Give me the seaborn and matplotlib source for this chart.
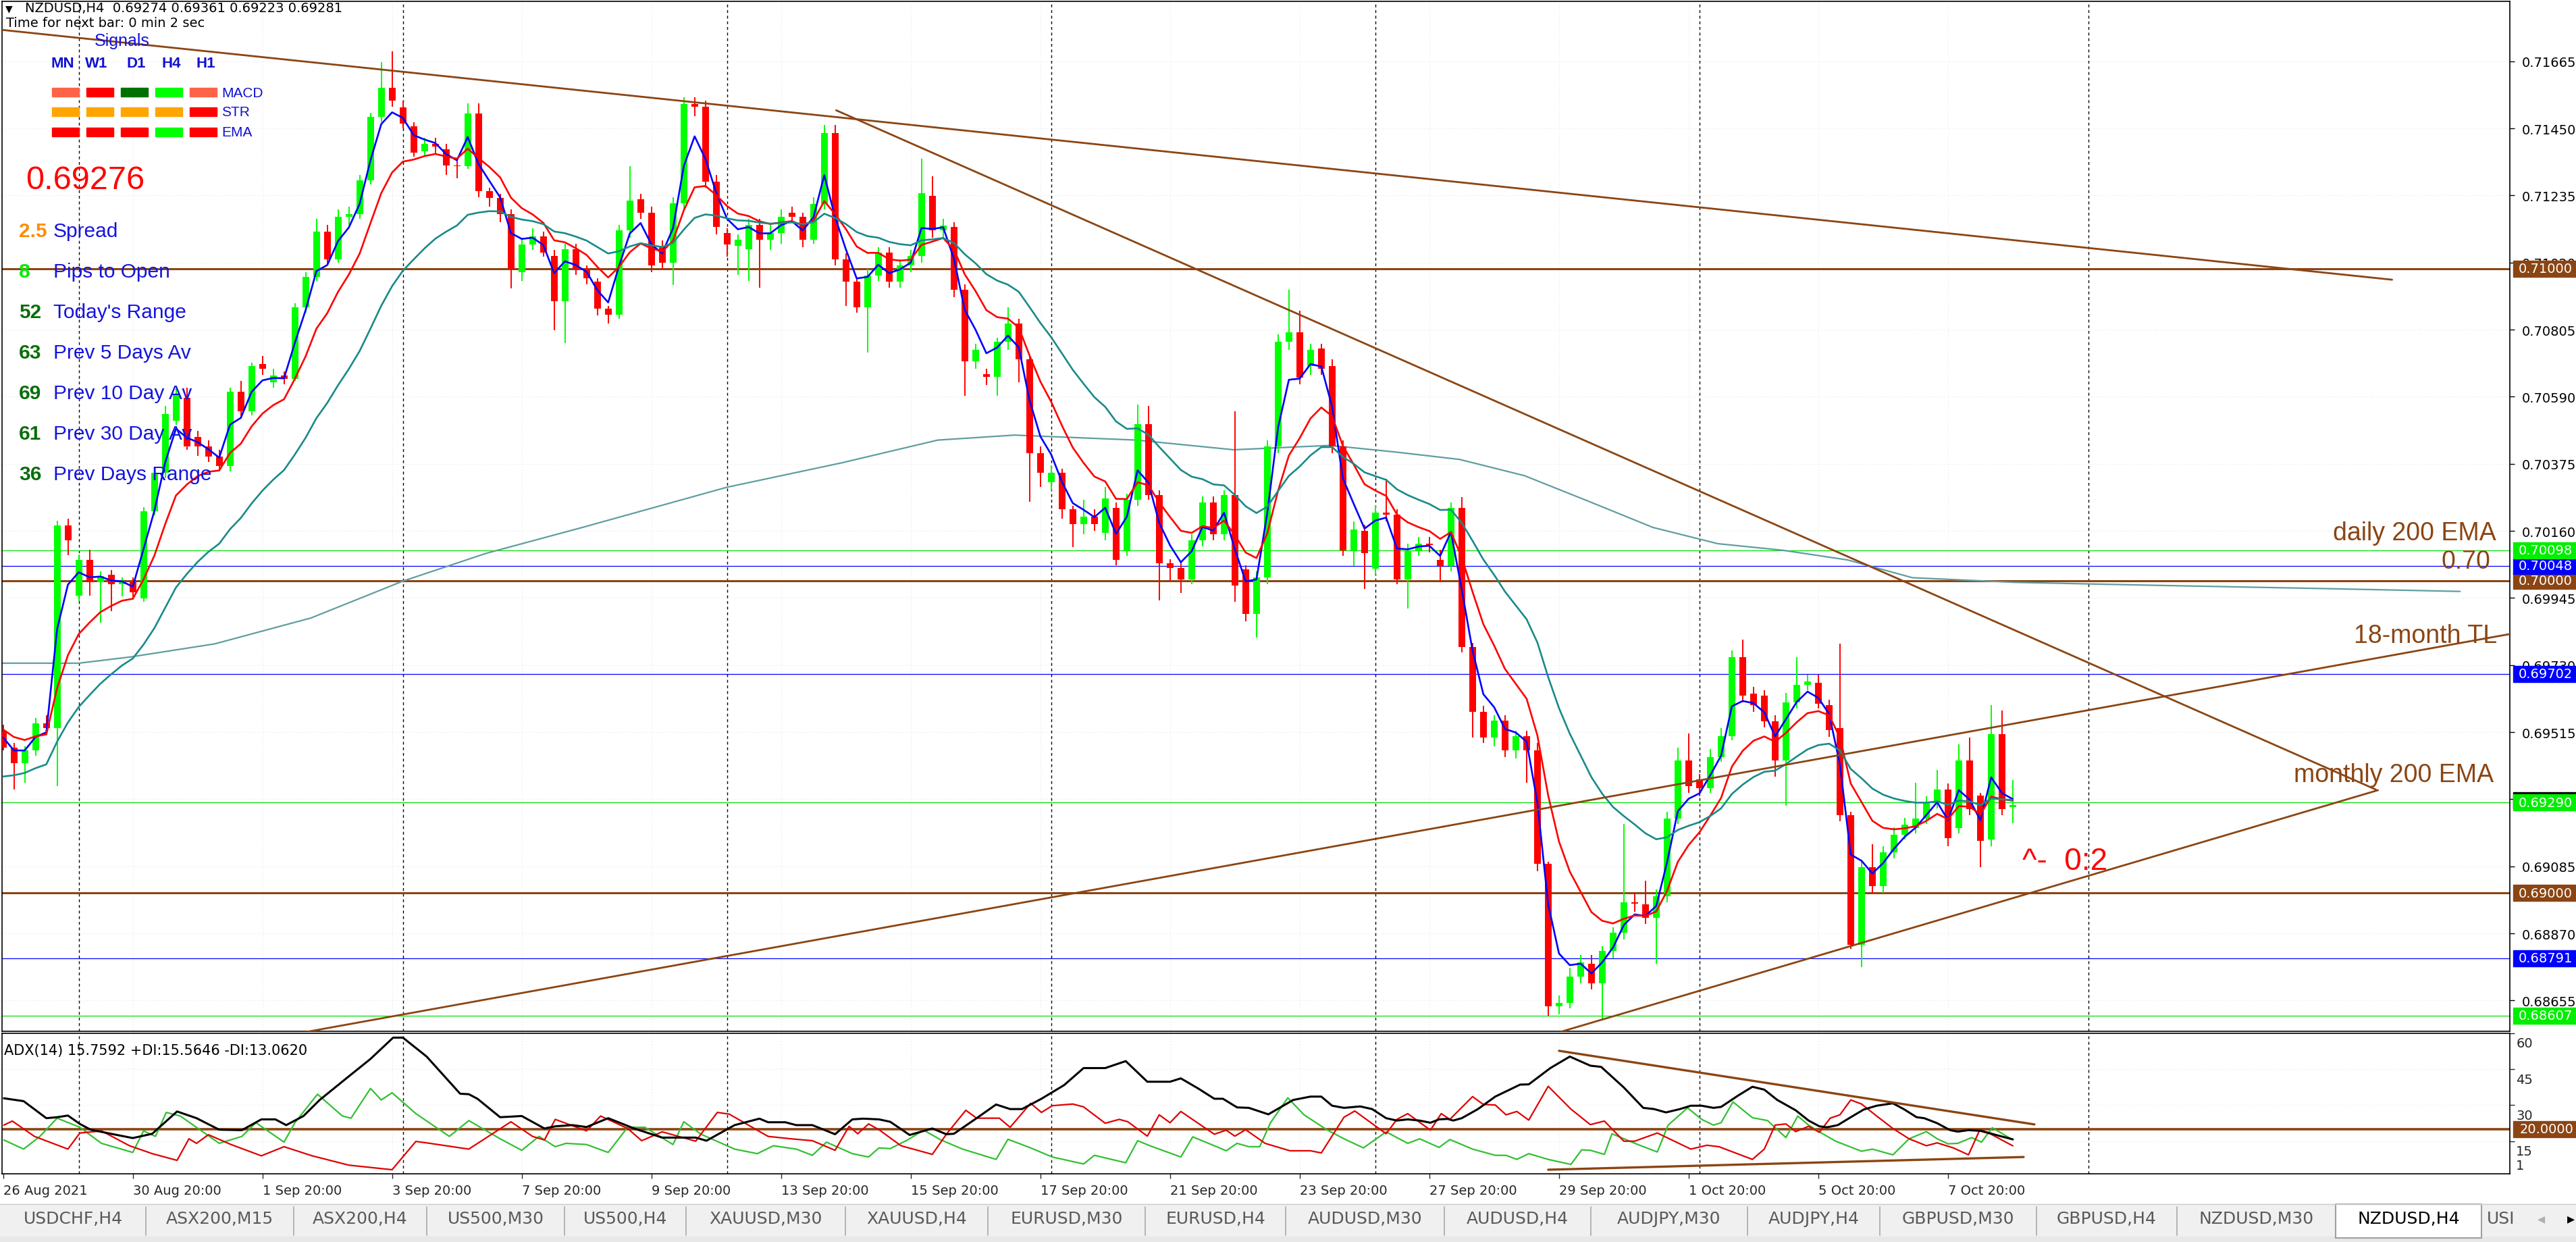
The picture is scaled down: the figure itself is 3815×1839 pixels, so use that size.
import numpy as np
import pandas as pd
import seaborn as sns
import matplotlib.pyplot as plt
import matplotlib.transforms as mtrans
from matplotlib.patches import Rectangle

sns.set_theme(style="white")
plt.rcParams['font.family'] = ['DejaVu Sans']

W, H = 3815, 1840

# ---- candle data (NZDUSD H4, 26 Aug 20:00 .. 8 Oct 20:00) ----
opens = [0.69518, 0.69466, 0.69415, 0.69456, 0.69543, 0.69529, 0.70177, 0.69953, 0.70067, 0.69995,
         0.70020, 0.69990, 0.69995, 0.69943, 0.70223, 0.70347, 0.70513, 0.70586, 0.70461, 0.70430,
         0.70399, 0.70368, 0.70606, 0.70544, 0.70695, 0.70637, 0.70658, 0.70648, 0.70876, 0.70973,
         0.71118, 0.71031, 0.71166, 0.71176, 0.71284, 0.71487, 0.71580, 0.71518, 0.71456, 0.71377,
         0.71400, 0.71383, 0.71332, 0.71330, 0.71497, 0.71249, 0.71228, 0.71176, 0.70990, 0.71077,
         0.71104, 0.71041, 0.70896, 0.71062, 0.71000, 0.70959, 0.70872, 0.70853, 0.71124, 0.71222,
         0.71180, 0.71070, 0.71020, 0.71211, 0.71528, 0.71520, 0.71280, 0.71114, 0.71073, 0.71062,
         0.71141, 0.71093, 0.71114, 0.71180, 0.71166, 0.71093, 0.71207, 0.71435, 0.71031, 0.70959,
         0.70876, 0.70979, 0.71052, 0.70959, 0.71010, 0.71041, 0.71234, 0.71124, 0.71135, 0.70932,
         0.70704, 0.70662, 0.70654, 0.70766, 0.70824, 0.70710, 0.70409, 0.70316, 0.70347, 0.70229,
         0.70181, 0.70206, 0.70154, 0.70233, 0.70098, 0.70260, 0.70503, 0.70275, 0.70057, 0.70042,
         0.70005, 0.70130, 0.70250, 0.70150, 0.70275, 0.70036, 0.69895, 0.70011, 0.70430, 0.70766,
         0.70797, 0.70689, 0.70745, 0.70689, 0.70430, 0.70098, 0.70161, 0.70040, 0.70219, 0.70212,
         0.70005, 0.70098, 0.70119, 0.70067, 0.70047, 0.70233, 0.69788, 0.69580, 0.69497, 0.69553,
         0.69456, 0.69502, 0.69456, 0.69093, 0.68637, 0.68648, 0.68731, 0.68772, 0.68710, 0.68813,
         0.68872, 0.68969, 0.68963, 0.68921, 0.68990, 0.69238, 0.69425, 0.69363, 0.69336, 0.69435,
         0.69502, 0.69756, 0.69638, 0.69632, 0.69549, 0.69425, 0.69611, 0.69667, 0.69674, 0.69601,
         0.69528, 0.69249, 0.68834, 0.69083, 0.69021, 0.69129, 0.69187, 0.69208, 0.69238, 0.69290,
         0.69332, 0.69208, 0.69425, 0.69311, 0.69170, 0.69508, 0.69274]
highs = [0.69539, 0.69480, 0.69470, 0.69560, 0.69570, 0.70192, 0.70200, 0.70085, 0.70099, 0.70030,
         0.70035, 0.70010, 0.70010, 0.70235, 0.70360, 0.70560, 0.70617, 0.70620, 0.70480, 0.70450,
         0.70420, 0.70620, 0.70640, 0.70700, 0.70720, 0.70680, 0.70670, 0.70890, 0.70990, 0.71160,
         0.71140, 0.71190, 0.71200, 0.71300, 0.71500, 0.71663, 0.71698, 0.71540, 0.71470, 0.71420,
         0.71420, 0.71400, 0.71350, 0.71530, 0.71530, 0.71260, 0.71240, 0.71190, 0.71100, 0.71130,
         0.71120, 0.71060, 0.71080, 0.71080, 0.71010, 0.70970, 0.70880, 0.71140, 0.71330, 0.71240,
         0.71200, 0.71090, 0.71230, 0.71550, 0.71550, 0.71540, 0.71300, 0.71130, 0.71110, 0.71160,
         0.71160, 0.71140, 0.71190, 0.71200, 0.71180, 0.71230, 0.71460, 0.71460, 0.71050, 0.70970,
         0.71000, 0.71070, 0.71070, 0.71030, 0.71060, 0.71352, 0.71296, 0.71160, 0.71150, 0.70950,
         0.70760, 0.70680, 0.70780, 0.70876, 0.70840, 0.70720, 0.70430, 0.70370, 0.70360, 0.70240,
         0.70260, 0.70230, 0.70300, 0.70250, 0.70280, 0.70565, 0.70560, 0.70290, 0.70070, 0.70060,
         0.70150, 0.70270, 0.70270, 0.70290, 0.70544, 0.70050, 0.70030, 0.70450, 0.70790, 0.70932,
         0.70865, 0.70760, 0.70760, 0.70710, 0.70450, 0.70190, 0.70180, 0.70240, 0.70326, 0.70230,
         0.70120, 0.70140, 0.70140, 0.70100, 0.70250, 0.70268, 0.69800, 0.69600, 0.69570, 0.69570,
         0.69520, 0.69520, 0.69480, 0.69100, 0.68670, 0.68760, 0.68800, 0.68800, 0.68830, 0.68890,
         0.69220, 0.69000, 0.69040, 0.69010, 0.69260, 0.69466, 0.69510, 0.69380, 0.69460, 0.69529,
         0.69777, 0.69812, 0.69660, 0.69650, 0.69570, 0.69640, 0.69756, 0.69700, 0.69700, 0.69620,
         0.69798, 0.69260, 0.69100, 0.69156, 0.69150, 0.69210, 0.69240, 0.69352, 0.69310, 0.69394,
         0.69350, 0.69477, 0.69497, 0.69320, 0.69601, 0.69585, 0.69361]
lows = [0.69456, 0.69332, 0.69352, 0.69440, 0.69515, 0.69342, 0.70082, 0.69935, 0.69953, 0.69866,
        0.69902, 0.69950, 0.69940, 0.69933, 0.70210, 0.70330, 0.70500, 0.70420, 0.70400, 0.70380,
        0.70358, 0.70350, 0.70520, 0.70530, 0.70660, 0.70620, 0.70630, 0.70640, 0.70860, 0.70960,
        0.71010, 0.71020, 0.71140, 0.71160, 0.71270, 0.71470, 0.71520, 0.71450, 0.71360, 0.71360,
        0.71370, 0.71300, 0.71290, 0.71320, 0.71230, 0.71200, 0.71150, 0.70938, 0.70960, 0.71060,
        0.71040, 0.70803, 0.70762, 0.70980, 0.70950, 0.70850, 0.70824, 0.70840, 0.71100, 0.71160,
        0.70990, 0.71000, 0.70948, 0.71190, 0.71490, 0.71260, 0.71110, 0.71040, 0.70980, 0.70960,
        0.70940, 0.71060, 0.71080, 0.71150, 0.71070, 0.71080, 0.71190, 0.71010, 0.70880, 0.70860,
        0.70731, 0.70960, 0.70940, 0.70940, 0.70990, 0.71020, 0.71100, 0.71100, 0.70910, 0.70592,
        0.70680, 0.70627, 0.70592, 0.70740, 0.70637, 0.70254, 0.70300, 0.70290, 0.70200, 0.70109,
        0.70150, 0.70160, 0.70130, 0.70050, 0.70080, 0.70240, 0.70260, 0.69937, 0.70000, 0.69960,
        0.69990, 0.70110, 0.70130, 0.70130, 0.69933, 0.69870, 0.69819, 0.69990, 0.70410, 0.70740,
        0.70630, 0.70660, 0.70660, 0.70410, 0.70080, 0.70047, 0.69974, 0.70020, 0.70190, 0.69990,
        0.69912, 0.70080, 0.70090, 0.69995, 0.70030, 0.69770, 0.69497, 0.69480, 0.69470, 0.69435,
        0.69430, 0.69352, 0.69070, 0.68606, 0.68610, 0.68630, 0.68710, 0.68690, 0.68596, 0.68790,
        0.68850, 0.68940, 0.68900, 0.68772, 0.68970, 0.69220, 0.69320, 0.69310, 0.69320, 0.69420,
        0.69490, 0.69610, 0.69580, 0.69530, 0.69373, 0.69280, 0.69590, 0.69650, 0.69590, 0.69500,
        0.69230, 0.68820, 0.68762, 0.69000, 0.69000, 0.69110, 0.69170, 0.69190, 0.69220, 0.69270,
        0.69150, 0.69190, 0.69250, 0.69083, 0.69150, 0.69250, 0.69223]
closes = [0.69466, 0.69415, 0.69456, 0.69543, 0.69529, 0.70177, 0.70130, 0.70067, 0.69995, 0.70016,
          0.69989, 0.69995, 0.69964, 0.70223, 0.70347, 0.70534, 0.70596, 0.70430, 0.70430, 0.70399,
          0.70368, 0.70606, 0.70544, 0.70689, 0.70679, 0.70658, 0.70648, 0.70876, 0.70973, 0.71118,
          0.71031, 0.71166, 0.71176, 0.71284, 0.71487, 0.71580, 0.71539, 0.71466, 0.71373, 0.71400,
          0.71392, 0.71332, 0.71328, 0.71497, 0.71249, 0.71228, 0.71176, 0.71000, 0.71077, 0.71104,
          0.71052, 0.70896, 0.71062, 0.71000, 0.70969, 0.70872, 0.70853, 0.71124, 0.71218, 0.71180,
          0.71010, 0.71020, 0.71211, 0.71528, 0.71520, 0.71280, 0.71135, 0.71077, 0.71093, 0.71141,
          0.71093, 0.71114, 0.71166, 0.71166, 0.71093, 0.71207, 0.71435, 0.71031, 0.70959, 0.70876,
          0.70979, 0.71052, 0.70959, 0.71010, 0.71041, 0.71242, 0.71124, 0.71139, 0.70932, 0.70704,
          0.70741, 0.70654, 0.70766, 0.70824, 0.70710, 0.70409, 0.70347, 0.70347, 0.70229, 0.70181,
          0.70206, 0.70181, 0.70264, 0.70067, 0.70260, 0.70503, 0.70275, 0.70057, 0.70042, 0.70005,
          0.70130, 0.70250, 0.70150, 0.70275, 0.69984, 0.69895, 0.70011, 0.70430, 0.70766, 0.70797,
          0.70652, 0.70741, 0.70679, 0.70430, 0.70098, 0.70165, 0.70088, 0.70219, 0.70212, 0.70005,
          0.70098, 0.70119, 0.70115, 0.70047, 0.70233, 0.69788, 0.69580, 0.69497, 0.69553, 0.69456,
          0.69502, 0.69456, 0.69093, 0.68637, 0.68648, 0.68731, 0.68778, 0.68710, 0.68813, 0.68872,
          0.68969, 0.68965, 0.68921, 0.68990, 0.69238, 0.69425, 0.69342, 0.69336, 0.69435, 0.69502,
          0.69756, 0.69632, 0.69601, 0.69549, 0.69425, 0.69611, 0.69667, 0.69678, 0.69605, 0.69522,
          0.69249, 0.68834, 0.69083, 0.69021, 0.69129, 0.69187, 0.69218, 0.69238, 0.69290, 0.69332,
          0.69176, 0.69425, 0.69269, 0.69166, 0.69508, 0.69269, 0.69281]

# moving averages: seeds read at the left edge, periods of the indicators
ema_seeds = [0.69530, 0.69540, 0.69363]
ema_spans = [3, 8, 20]

# long (shifted) average line: bar position / price
long_ma_bars = [-0.2, 7, 11.8, 19.6, 28.5, 37, 44.7, 53.6, 67, 77.6, 86.5, 93.6, 104.9, 113.9,
                122.8, 128.8, 134.8, 140.8, 146.8, 152.7, 158.7, 164.7, 170.7, 176.7, 186.2,
                200, 215, 227.4]
long_ma_vals = [0.69736, 0.69736, 0.69756, 0.69798, 0.69881, 0.69999, 0.70088, 0.70171, 0.70300,
                0.70378, 0.70451, 0.70467, 0.70451, 0.70420, 0.70434, 0.70413, 0.70389, 0.70337,
                0.70254, 0.70171, 0.70119, 0.70098, 0.70067, 0.70010, 0.69995, 0.69985, 0.69975,
                0.69966]

# ADX(14) lines
adx_bars = [0.07, 1.9, 4.0, 5.0, 6.0, 7.1, 8.1, 10.2, 12.0, 13.8, 16.1, 17.9, 20.0, 22.1, 23.9,
            25.2, 26.2, 27.8, 29.3, 31.9, 34.0, 36.1, 37.0, 39.2, 42.3, 43.1, 43.9, 46.0, 48.0,
            50.1, 51.1, 52.7, 54.0, 56.0, 58.4, 61.0, 64.1, 65.1, 67.7, 70.0, 70.8, 72.4, 73.4,
            74.9, 77.0, 78.6, 79.6, 81.06, 82.1, 83.9, 86.0, 87.3, 88.0, 90.1, 91.9, 93.2, 94.3,
            96.1, 98.2, 100.0, 102.0, 103.9, 105.9, 108.0, 109.0, 110.6, 112.1, 112.9, 114.2,
            115.3, 117.1, 119.4, 121.0, 122.0, 123.0, 124.1, 125.6, 126.7, 128.0, 129.0, 130.0,
            131.1, 132.1, 132.9, 133.7, 134.2, 135.0, 136.5, 138.1, 140.4, 141.2, 143.2, 145.0,
            146.9, 147.9, 150.0, 151.8, 152.8, 153.9, 155.2, 156.2, 157.2, 158.3, 159.0, 160.6,
            161.9, 163.0, 164.2, 165.9, 167.1, 168.1, 168.8, 169.8, 171.0, 172.2, 173.4, 174.9,
            175.9, 177.1, 177.8, 179.0, 180.2, 180.9, 181.9, 183.1, 184.6, 186.0]
adx_vals = [32.9, 31.7, 24.6, 25.0, 25.7, 22.2, 19.8, 17.9, 16.3, 18.1, 27.4, 24.6, 19.8, 19.6,
            24.1, 24.1, 21.7, 25.5, 32.2, 41.7, 49.3, 58.2, 58.2, 50.3, 34.8, 34.6, 32.7, 25.0,
            25.5, 20.3, 21.2, 21.7, 20.9, 24.6, 20.3, 16.5, 16.5, 15.2, 21.7, 24.4, 22.9, 22.9,
            21.7, 21.7, 17.9, 24.1, 24.4, 24.1, 23.1, 17.6, 20.3, 17.9, 18.1, 24.6, 30.3, 28.4,
            28.4, 32.7, 38.4, 45.5, 45.5, 48.4, 39.8, 39.8, 41.2, 37.0, 32.7, 32.7, 29.1, 28.9,
            26.2, 32.2, 33.6, 33.6, 29.8, 28.9, 29.5, 28.4, 24.6, 23.6, 24.1, 23.6, 22.7, 24.1,
            24.3, 23.6, 24.6, 28.4, 33.6, 38.6, 38.7, 45.5, 50.3, 46.5, 46.0, 37.4, 28.9, 28.4,
            27.0, 28.4, 29.8, 29.8, 28.9, 29.3, 34.1, 37.7, 36.5, 32.2, 27.9, 23.6, 21.2, 20.8,
            21.7, 25.0, 28.2, 29.8, 30.8, 28.4, 25.0, 24.6, 22.5, 19.6, 19.0, 19.6, 19.3, 17.4,
            15.76]
pdi_bars = [0.07, 1.9, 3.4, 5.0, 7.1, 9.1, 12.0, 13.0, 14.1, 15.1, 16.4, 20.0, 22.1, 23.4, 26.0,
            27.0, 29.1, 31.4, 32.2, 34.0, 35.0, 36.0, 38.2, 41.3, 43.1, 46.0, 48.0, 49.6, 51.1,
            52.1, 54.0, 56.0, 57.8, 59.4, 62.0, 63.0, 64.6, 67.7, 69.8, 71.3, 73.4, 74.9, 76.2,
            78.6, 80.1, 81.06, 82.1, 83.7, 85.2, 86.8, 88.8, 91.9, 93.0, 95.1, 97.1, 100.0, 101.0,
            103.9, 105.0, 106.2, 109.0, 110.1, 112.1, 113.2, 114.2, 115.3, 116.3, 117.3, 118.9,
            120.4, 122.5, 124.1, 125.9, 128.0, 130.0, 131.1, 132.9, 133.9, 136.0, 138.1, 139.1,
            140.1, 141.2, 143.0, 145.1, 146.1, 146.9, 148.2, 148.9, 151.3, 153.1, 154.1, 155.9,
            157.2, 158.3, 159.0, 160.1, 161.9, 163.3, 165.0, 166.1, 167.1, 168.1, 169.6, 172.0,
            173.0, 174.9, 176.4, 178.0, 179.0, 180.0, 180.9, 182.2, 183.1, 184.1, 186.0]
pdi_vals = [15.5, 11.7, 17.0, 24.6, 20.8, 14.1, 10.3, 19.3, 17.0, 27.0, 25.5, 14.1, 17.0, 22.7,
            14.6, 22.7, 34.6, 25.5, 24.6, 37.0, 32.2, 35.2, 26.5, 17.0, 23.6, 16.0, 11.2, 17.0,
            12.7, 14.1, 13.6, 10.3, 20.8, 20.8, 13.6, 23.1, 17.9, 11.7, 9.8, 13.1, 11.7, 9.1,
            14.6, 9.8, 8.4, 12.2, 11.9, 15.5, 19.6, 15.5, 11.7, 7.4, 15.8, 12.2, 8.4, 5.5, 9.1,
            6.0, 15.2, 13.0, 8.4, 16.8, 13.1, 11.0, 14.1, 12.7, 12.7, 22.7, 33.1, 26.0, 19.8,
            16.0, 12.2, 18.9, 14.1, 16.0, 12.4, 15.7, 11.7, 9.1, 9.1, 7.4, 9.8, 7.4, 5.3, 11.4,
            11.2, 9.5, 18.1, 13.6, 10.5, 21.7, 28.9, 24.1, 21.7, 22.7, 31.4, 24.8, 23.6, 16.5,
            25.5, 21.7, 18.9, 15.0, 10.8, 11.7, 9.3, 16.0, 19.0, 16.0, 13.9, 14.1, 16.5, 14.6,
            20.6, 15.56]
mdi_bars = [0.07, 0.85, 2.9, 6.0, 7.1, 9.1, 11.7, 13.8, 16.1, 17.2, 17.9, 19.0, 21.1, 23.9, 26.0,
            28.6, 32.0, 36.0, 38.2, 39.2, 43.1, 47.0, 49.0, 50.1, 51.1, 54.0, 55.3, 57.8, 59.1,
            61.0, 64.1, 66.1, 67.2, 70.8, 72.9, 74.9, 77.0, 78.3, 79.1, 80.1, 81.06, 83.1, 86.0,
            87.3, 89.1, 90.1, 92.2, 93.2, 95.1, 96.1, 97.1, 99.0, 100.0, 102.0, 103.3, 104.1,
            105.9, 107.0, 108.0, 109.0, 112.1, 113.2, 114.0, 115.0, 116.8, 119.1, 121.0, 122.0,
            124.1, 125.1, 128.0, 129.0, 130.0, 132.1, 133.1, 133.9, 136.0, 137.0, 138.1, 139.1,
            140.1, 141.2, 143.0, 145.1, 146.9, 148.2, 150.0, 151.0, 153.1, 156.2, 157.7, 158.8,
            161.9, 163.0, 164.0, 165.0, 165.9, 167.1, 168.1, 169.1, 170.0, 171.0, 172.0, 173.4,
            174.9, 176.4, 178.0, 179.0, 180.5, 181.9, 182.9, 183.9, 186.0]
mdi_vals = [21.7, 23.4, 17.0, 11.7, 18.4, 19.3, 13.1, 9.8, 7.0, 16.0, 14.1, 17.7, 13.6, 8.9, 12.7,
            8.9, 5.0, 3.1, 14.9, 14.3, 11.7, 23.1, 17.0, 15.5, 24.1, 19.3, 25.5, 20.3, 15.2, 18.9,
            15.0, 27.0, 26.3, 17.0, 16.0, 15.2, 11.2, 21.2, 18.1, 22.2, 19.8, 13.1, 9.5, 17.9,
            27.9, 24.6, 24.6, 20.8, 30.8, 27.0, 29.8, 30.5, 29.3, 22.5, 24.1, 23.1, 17.1, 26.0,
            22.7, 27.4, 17.9, 19.6, 17.1, 19.8, 14.1, 11.0, 11.0, 10.1, 25.0, 27.6, 18.1, 24.1,
            26.5, 19.6, 26.5, 24.1, 33.6, 30.3, 30.1, 26.0, 27.4, 23.8, 37.9, 28.4, 21.9, 23.4,
            15.0, 15.0, 18.4, 11.7, 13.3, 12.7, 7.4, 11.7, 21.7, 22.2, 19.0, 21.2, 18.7, 24.6,
            26.0, 32.2, 30.5, 25.5, 20.3, 16.0, 13.1, 14.3, 12.2, 9.3, 19.3, 18.1, 13.06]

# axis / labels
date_ticks = list(range(0, 181, 12))
date_labels = ["26 Aug 2021", "30 Aug 20:00", "1 Sep 20:00", "3 Sep 20:00", "7 Sep 20:00",
               "9 Sep 20:00", "13 Sep 20:00", "15 Sep 20:00", "17 Sep 20:00", "21 Sep 20:00",
               "23 Sep 20:00", "27 Sep 20:00", "29 Sep 20:00", "1 Oct 20:00", "5 Oct 20:00",
               "7 Oct 20:00"]
week_starts = [7, 37, 67, 97, 127, 157, 193]
price_ticks = [0.71665, 0.71450, 0.71235, 0.71020, 0.70805, 0.70590, 0.70375, 0.70160,
               0.69945, 0.69730, 0.69515, 0.69300, 0.69085, 0.68870, 0.68655]
adx_ticks = [60, 45, 30, 15]

# horizontal levels drawn on the chart
brown_levels = [0.71000, 0.70000, 0.69000]
blue_levels = [0.70048, 0.69702, 0.68791]
green_levels = [0.70098, 0.69290, 0.68607]

# trend lines (bar, price)
tl_top = [(-0.2, 0.71766), (221.1, 0.70965)]
tl_down = [(77.1, 0.71508), (219.6, 0.69331)]
tl_18m = [(20.5, 0.68507), (232.1, 0.69830)]
tl_low = [(144.1, 0.68554), (219.8, 0.69329)]
adx_tl_up = [(144.0, 52.7), (188.0, 22.0)]
adx_tl_low = [(143.0, 3.1), (187.0, 8.4)]

tabs = ["USDCHF,H4", "ASX200,M15", "ASX200,H4", "US500,M30", "US500,H4", "XAUUSD,M30",
        "XAUUSD,H4", "EURUSD,M30", "EURUSD,H4", "AUDUSD,M30", "AUDUSD,H4", "AUDJPY,M30",
        "AUDJPY,H4", "GBPUSD,M30", "GBPUSD,H4", "NZDUSD,M30", "NZDUSD,H4"]
tab_edges = [0, 216, 435, 632, 836, 1016, 1252, 1463, 1696, 1904, 2139, 2356, 2588, 2784,
             3016, 3224, 3459, 3675]

info_values = ["2.5", "8", "52", "63", "69", "61", "36"]
info_names = ["Spread", "Pips to Open", "Today's Range", "Prev 5 Days Av", "Prev 10 Day Av",
              "Prev 30 Day Av", "Prev Days Range"]
signal_tf = ["MN", "W1", "D1", "H4", "H1"]
signal_rows = ["MACD", "STR", "EMA"]
signal_colors = [["#ff6347", "#ff0000", "#007000", "#00ff00", "#ff6347"],
                 ["#ffa500", "#ffa500", "#ffa500", "#ffa500", "#ff0000"],
                 ["#ff0000", "#ff0000", "#ff0000", "#00ff00", "#ff0000"]]

BROWN = "#8b4513"
ARIAL = ["Liberation Sans", "DejaVu Sans"]


def fx(px):
    return px / W


def fy(py):
    return 1 - py / H


fig = plt.figure(figsize=(W / 100, H / 100), dpi=100)
fig.patch.set_facecolor("white")

ax = fig.add_axes([fx(3), fy(1528), 3714 / W, 1525 / H])
ax2 = fig.add_axes([fx(3), fy(1739), 3714 / W, 208 / H])
XLIM = (-0.1, 232.0)
ax.set_xlim(*XLIM)
ax2.set_xlim(*XLIM)
ax.set_ylim(0.685563, 0.718571)
ax2.set_ylim(1.4, 60.0)

for a in (ax, ax2):
    a.set_facecolor("white")
    for s in a.spines.values():
        s.set_color("black")
        s.set_linewidth(1.2)

# faint grid
for p in price_ticks:
    ax.axhline(p, color="#e4e4e4", lw=0.8, ls=(0, (1, 3)), zorder=0)
for t in date_ticks:
    ax.axvline(t, color="#e4e4e4", lw=0.8, ls=(0, (1, 3)), zorder=0)
    ax2.axvline(t, color="#e4e4e4", lw=0.8, ls=(0, (1, 3)), zorder=0)
for v in adx_ticks:
    ax2.axhline(v, color="#e4e4e4", lw=0.8, ls=(0, (1, 3)), zorder=0)

# week separators
for w in week_starts:
    ax.axvline(w, color="black", lw=1.0, ls=(0, (3, 3)), zorder=1)
    ax2.axvline(w, color="black", lw=1.0, ls=(0, (3, 3)), zorder=1)

# levels
for p in brown_levels:
    ax.axhline(p, color=BROWN, lw=2.2, zorder=2)
for p in blue_levels:
    ax.axhline(p, color="#0000ff", lw=0.9, zorder=2)
for p in green_levels:
    ax.axhline(p, color="#00e000", lw=0.9, zorder=2)

# long average
sns.lineplot(x=long_ma_bars, y=long_ma_vals, ax=ax, color="#5f9ea0", lw=1.6,
             estimator=None, sort=False, zorder=2)

# candles
df = pd.DataFrame({"o": opens, "h": highs, "l": lows, "c": closes})
df["i"] = np.arange(len(df))
up = df["c"] >= df["o"]
cols = np.where(up, "#00ff00", "#ff0000")
ax.vlines(df["i"], df["l"], df["h"], colors=cols, lw=1.4, zorder=3)
body = (df["c"] - df["o"]).abs().clip(lower=0.00003)
ax.bar(df["i"], body, bottom=df[["o", "c"]].min(axis=1), width=0.62, color=cols,
       lw=0, zorder=3)

# EMAs computed from closes
ema_colors = ["#0000ff", "#ff0000", "#1a8a8a"]
for seed, span, col in zip(ema_seeds, ema_spans, ema_colors):
    e = pd.Series([seed] + closes).ewm(span=span, adjust=False).mean().iloc[1:].values
    sns.lineplot(x=df["i"], y=e, ax=ax, color=col, lw=1.9, estimator=None, zorder=4)

# trend lines
for tl in (tl_top, tl_down, tl_18m, tl_low):
    ax.plot([tl[0][0], tl[1][0]], [tl[0][1], tl[1][1]], color=BROWN, lw=2.0, zorder=5)

# ADX pane
ax2.axhline(20, color=BROWN, lw=2.6, zorder=2)
sns.lineplot(x=pdi_bars, y=pdi_vals, ax=ax2, color="#32c032", lw=1.6, estimator=None,
             sort=False, zorder=3)
sns.lineplot(x=mdi_bars, y=mdi_vals, ax=ax2, color="#e00000", lw=1.6, estimator=None,
             sort=False, zorder=3)
sns.lineplot(x=adx_bars, y=adx_vals, ax=ax2, color="black", lw=2.2, estimator=None,
             sort=False, zorder=4)
for tl in (adx_tl_up, adx_tl_low):
    ax2.plot([tl[0][0], tl[1][0]], [tl[0][1], tl[1][1]], color=BROWN, lw=2.4, zorder=5)

# axes ticks
ax.set_xticks([])
ax.yaxis.tick_right()
ax.set_yticks(price_ticks)
ax.set_yticklabels([f"{p:.5f}" for p in price_ticks])
ax.tick_params(axis="y", direction="out", length=5, width=1, pad=8, labelsize=14,
               colors="black", right=True, left=False)
ax.set_ylabel("")
ax.set_xlabel("")

ax2.yaxis.tick_right()
ax2.set_yticks(adx_ticks)
ax2.set_yticklabels([])
ax2.tick_params(axis="y", direction="out", length=5, width=1, right=True, left=False)
ax2.set_xticks(date_ticks)
ax2.set_xticklabels(date_labels, ha="left")
ax2.tick_params(axis="x", direction="out", length=5, width=1, pad=6, labelsize=14,
                bottom=True)
ax2.set_ylabel("")
ax2.set_xlabel("")
tr2 = mtrans.blended_transform_factory(ax2.transAxes, ax2.transData)
for v in adx_ticks:
    ax2.text(1.0025, v - 1.5, str(v), transform=tr2, ha="left", va="top", fontsize=14,
             clip_on=False)
ax2.text(1.0025, 4.8, "1", transform=tr2, ha="left", va="center", fontsize=14, clip_on=False)
ax2.add_patch(Rectangle((1.0013, 20 - 3.4), 0.026, 6.8, transform=tr2, color=BROWN,
                        clip_on=False, zorder=6))
ax2.text(1.004, 20, "20.0000", transform=tr2, ha="left", va="center", fontsize=14,
         color="white", clip_on=False, zorder=7)

# price axis boxes
tr = mtrans.blended_transform_factory(ax.transAxes, ax.transData)
box_h = 24 / 46200
ax.add_patch(Rectangle((1.0013, 0.69297 - box_h / 2), 0.026, box_h, transform=tr,
                       color="black", clip_on=False, zorder=6))
box_prices = brown_levels + blue_levels + green_levels
box_cols = [BROWN] * 3 + ["#0000ff"] * 3 + ["#00ee00"] * 3
for p, c in zip(box_prices, box_cols):
    ax.add_patch(Rectangle((1.0013, p - box_h / 2), 0.026, box_h, transform=tr, color=c,
                           clip_on=False, zorder=7))
    ax.text(1.0035, p, f"{p:.5f}", transform=tr, ha="left", va="center", fontsize=14,
            color="white", clip_on=False, zorder=8)

# chart annotations
fig.text(fx(3697), fy(800), "daily 200 EMA", ha="right", va="baseline", fontsize=27,
         color=BROWN, family=ARIAL)
fig.text(fx(3688), fy(842), "0.70", ha="right", va="baseline", fontsize=27, color=BROWN,
         family=ARIAL)
fig.text(fx(3698), fy(952), "18-month TL", ha="right", va="baseline", fontsize=27,
         color=BROWN, family=ARIAL)
fig.text(fx(3693), fy(1158), "monthly 200 EMA", ha="right", va="baseline", fontsize=27,
         color=BROWN, family=ARIAL)
fig.text(fx(2995), fy(1288), "^-  0:2", ha="left", va="baseline", fontsize=33,
         color="#ff0000", family=ARIAL)

# header
fig.text(fx(8), fy(13), "\u25bc", ha="left", va="center", fontsize=10, color="black")
fig.text(fx(37), fy(12), "NZDUSD,H4  0.69274 0.69361 0.69223 0.69281", ha="left",
         va="center", fontsize=14, color="black")
fig.text(fx(9), fy(35), "Time for next bar: 0 min 2 sec", ha="left", va="center",
         fontsize=14, color="black")
fig.text(fx(140), fy(61), "Signals", ha="left", va="center", fontsize=18,
         color="#1414dc", family=ARIAL)

tf_x = [93, 143, 202, 254, 305]
for t, xx in zip(signal_tf, tf_x):
    fig.text(fx(xx), fy(94), t, ha="center", va="center", fontsize=16, weight="bold",
             color="#1010d0", family=ARIAL)
rect_x = [77, 128, 179, 230, 281]
row_y = [137, 166, 196]
for r, (name, yy) in enumerate(zip(signal_rows, row_y)):
    for c, xx in enumerate(rect_x):
        fig.add_artist(Rectangle((fx(xx), fy(yy + 6.5)), 40 / W, 13 / H,
                                 transform=fig.transFigure, color=signal_colors[r][c],
                                 zorder=6))
    fig.text(fx(328), fy(yy + 1), name, ha="left", va="center", fontsize=15,
             color="#1010d0", family=ARIAL)

fig.text(fx(38), fy(268), "0.69276", ha="left", va="center", fontsize=35,
         color="#ff0000", family=ARIAL)
val_colors = ["#ff8c00", "#00ee00", "#0a6e0a", "#0a6e0a", "#0a6e0a", "#0a6e0a", "#0a6e0a"]
for k, (v, nm) in enumerate(zip(info_values, info_names)):
    yy = 343 + 60 * k
    fig.text(fx(28), fy(yy), v, ha="left", va="center", fontsize=21.5, weight="bold",
             color=val_colors[k], family=ARIAL)
    fig.text(fx(79), fy(yy), nm, ha="left", va="center", fontsize=21.5, color="#1414dc",
             family=ARIAL)

fig.text(fx(6), fy(1556), "ADX(14) 15.7592 +DI:15.5646 -DI:13.0620", ha="left",
         va="center", fontsize=15, color="black")

# tab bar
axt = fig.add_axes([0, 0, 1, 57 / H])
axt.set_xlim(0, W)
axt.set_ylim(0, 57)
axt.set_facecolor("#f0f0f0")
axt.axis("off")
axt.add_patch(Rectangle((0, 0), W, 57, color="#f0f0f0", zorder=0))
axt.add_patch(Rectangle((0, 0), W, 8, color="#e8e8e8", zorder=0))
axt.add_patch(Rectangle((tab_edges[-2], 6), tab_edges[-1] - tab_edges[-2], 51,
                        facecolor="white", edgecolor="#a0a0a0", lw=1.5, zorder=1))
for k, name in enumerate(tabs):
    x0, x1 = tab_edges[k], tab_edges[k + 1]
    if k + 1 < len(tabs) - 1:
        axt.plot([x1, x1], [10, 52], color="#a8a8a8", lw=1.2, zorder=2)
    active = k == len(tabs) - 1
    axt.text((x0 + x1) / 2, 35, name, ha="center", va="center", fontsize=18,
             color="black" if active else "#5a5a5a", zorder=3)
axt.text(3683, 35, "USI", ha="left", va="center", fontsize=18, color="#5a5a5a", zorder=3)
axt.text(3764, 35, "\u25c2", ha="center", va="center", fontsize=16, color="#b0b0b0", zorder=3)
axt.text(3808, 35, "\u25b8", ha="center", va="center", fontsize=16, color="black", zorder=3)
axt.plot([0, W], [56.5, 56.5], color="#d0d0d0", lw=1)

fig.savefig("out.png", dpi=100, facecolor="white")
